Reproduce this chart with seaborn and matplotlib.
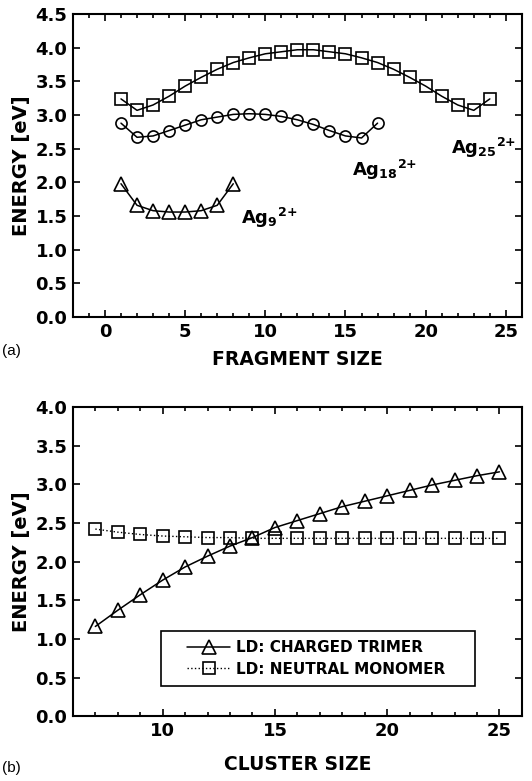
import matplotlib
matplotlib.use("Agg")
import matplotlib.pyplot as plt
from matplotlib.patches import Rectangle
from matplotlib.ticker import MultipleLocator, FormatStrFormatter
import seaborn as sns

# (a) fragment energies for Ag9, Ag18, Ag25 (2+)
frag_ag9 = [1, 2, 3, 4, 5, 6, 7, 8]
e_ag9 = [1.98, 1.66, 1.58, 1.56, 1.56, 1.58, 1.66, 1.98]

frag_ag18 = list(range(1, 18))
e_ag18 = [2.88, 2.67, 2.69, 2.77, 2.85, 2.93, 2.97, 3.01, 3.02,
          3.01, 2.98, 2.93, 2.86, 2.77, 2.69, 2.66, 2.88]

frag_ag25 = list(range(1, 25))
e_ag25 = [3.24, 3.07, 3.15, 3.28, 3.43, 3.56, 3.68, 3.78, 3.85, 3.91, 3.94, 3.97,
          3.97, 3.94, 3.91, 3.85, 3.78, 3.68, 3.56, 3.43, 3.28, 3.15, 3.07, 3.24]

# (b) LD energies vs cluster size
cluster_size = list(range(7, 26))
e_trimer = [1.16, 1.37, 1.57, 1.76, 1.93, 2.07, 2.20, 2.31, 2.44, 2.53,
            2.62, 2.71, 2.78, 2.85, 2.92, 2.99, 3.05, 3.11, 3.16]
e_monomer = [2.42, 2.38, 2.35, 2.33, 2.32, 2.31, 2.31, 2.30, 2.30, 2.30,
             2.30, 2.30, 2.30, 2.30, 2.30, 2.30, 2.30, 2.30, 2.30]

sns.set_style("ticks")
plt.rcParams['font.family'] = ['DejaVu Sans']
plt.rcParams['font.weight'] = 'bold'
plt.rcParams['mathtext.fontset'] = 'custom'
plt.rcParams['mathtext.rm'] = 'DejaVu Sans:bold'
plt.rcParams['mathtext.it'] = 'DejaVu Sans:bold'
plt.rcParams['mathtext.bf'] = 'DejaVu Sans:bold'
for key in ['text.color', 'axes.labelcolor', 'axes.edgecolor', 'xtick.color', 'ytick.color']:
    plt.rcParams[key] = 'black'

fig = plt.figure(figsize=(5.32, 7.81), dpi=100)
ax1 = fig.add_axes([0.137, 0.594, 0.844, 0.388])
ax2 = fig.add_axes([0.137, 0.083, 0.844, 0.396])

mk = dict(color='k', markerfacecolor='none', markeredgecolor='k', markeredgewidth=1.2)

sns.lineplot(x=frag_ag25, y=e_ag25, marker='s', markersize=8, linewidth=1.1, ax=ax1, **mk)
sns.lineplot(x=frag_ag18, y=e_ag18, marker='o', markersize=8, linewidth=1.1, ax=ax1, **mk)
sns.lineplot(x=frag_ag9, y=e_ag9, marker='^', markersize=10, linewidth=1.1, ax=ax1, **mk)

ax1.text(8.5, 1.38, r'Ag$_{9}{}^{2{+}}$', fontsize=13, fontweight='bold', va='baseline')
ax1.text(15.4, 2.10, r'Ag$_{18}{}^{2{+}}$', fontsize=13, fontweight='bold', va='baseline')
ax1.text(21.6, 2.42, r'Ag$_{25}{}^{2{+}}$', fontsize=13, fontweight='bold', va='baseline')

ax1.set_xlim(-2, 26)
ax1.set_ylim(0, 4.5)
ax1.xaxis.set_major_locator(MultipleLocator(5))
ax1.xaxis.set_minor_locator(MultipleLocator(1))
ax1.yaxis.set_major_locator(MultipleLocator(0.5))
ax1.yaxis.set_major_formatter(FormatStrFormatter('%.1f'))
ax1.set_xlabel('FRAGMENT SIZE', fontsize=13.5, fontweight='bold', labelpad=7)
ax1.set_ylabel('ENERGY [eV]', fontsize=14, fontweight='bold', labelpad=3)

sns.lineplot(x=cluster_size, y=e_trimer, marker='^', markersize=10, linewidth=1.1,
             label='LD: CHARGED TRIMER', ax=ax2, **mk)
sns.lineplot(x=cluster_size, y=e_monomer, marker='s', markersize=8, linewidth=1.0,
             linestyle=':', label='LD: NEUTRAL MONOMER', ax=ax2, **mk)

ax2.set_xlim(6, 26)
ax2.set_ylim(0, 4.0)
ax2.xaxis.set_major_locator(MultipleLocator(5))
ax2.xaxis.set_minor_locator(MultipleLocator(1))
ax2.yaxis.set_major_locator(MultipleLocator(0.5))
ax2.yaxis.set_major_formatter(FormatStrFormatter('%.1f'))
ax2.set_xlabel('CLUSTER SIZE', fontsize=13.5, fontweight='bold', labelpad=11)
ax2.set_ylabel('ENERGY [eV]', fontsize=14, fontweight='bold', labelpad=3)

# legend entries without frame, box drawn separately to match the wide padding
leg = ax2.legend(loc='center', bbox_to_anchor=(0.542, 0.187),
                 frameon=False, handlelength=2.8, handletextpad=0.4,
                 labelspacing=0.45, prop={'weight': 'bold', 'size': 11})
ax2.add_patch(Rectangle((0.196, 0.098), 0.699, 0.178, transform=ax2.transAxes,
                        fill=False, edgecolor='k', linewidth=1.2, zorder=5))

for ax in (ax1, ax2):
    for s in ax.spines.values():
        s.set_linewidth(1.5)
        s.set_visible(True)
        s.set_color('k')
    ax.tick_params(which='both', direction='in', top=True, right=True, width=1.2)
    ax.tick_params(which='major', length=5, labelsize=13, pad=4)
    ax.tick_params(which='minor', length=3)
    for lab in ax.get_xticklabels() + ax.get_yticklabels():
        lab.set_fontweight('bold')

fig.text(0.004, 0.546, '(a)', fontsize=11, fontweight='normal', family='Liberation Sans')
fig.text(0.004, 0.012, '(b)', fontsize=11, fontweight='normal', family='Liberation Sans')

fig.savefig('out.png', dpi=100)
